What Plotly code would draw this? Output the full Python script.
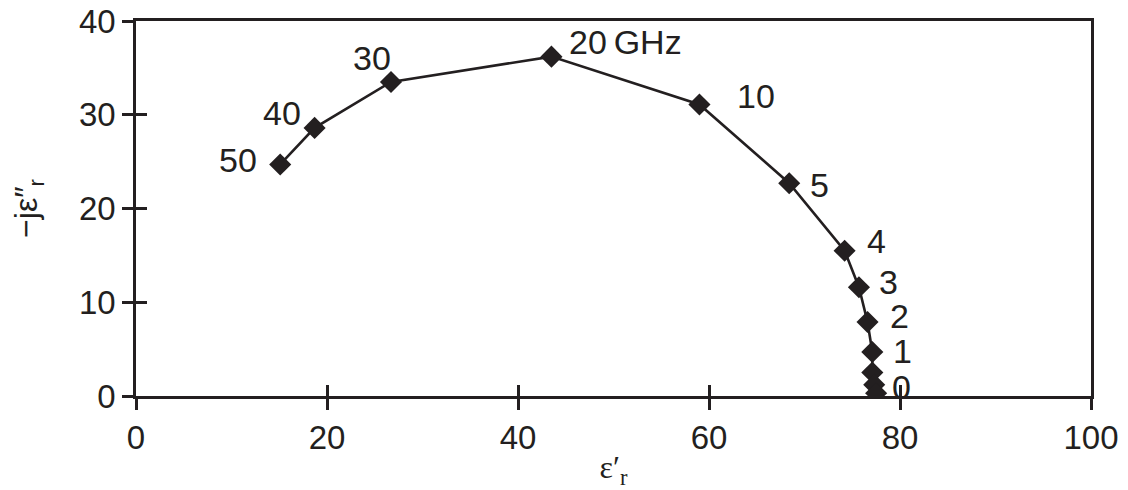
import plotly.graph_objects as go

freq_labels = ["50", "40", "30", "20\u2009GHz", "10", "5", "4", "3", "2", "1", "", "", "0"]
eps_real = [15.1, 18.7, 26.7, 43.5, 59.0, 68.4, 74.2, 75.7, 76.6, 77.1, 77.1, 77.3, 77.5]
eps_imag = [24.7, 28.6, 33.5, 36.2, 31.1, 22.7, 15.5, 11.6, 7.9, 4.7, 2.5, 1.2, 0.3]
x_ticks = [0, 20, 40, 60, 80, 100]
y_ticks = [0, 10, 20, 30, 40]

# label offsets (pixels) relative to each point
label_dx = [-42, -33, -19, 16, 57, 30, 32, 30, 32, 30, 0, 0, 25]
label_dy = [4, 15, 24, 15, 8, -2, 10, 5, 6, 1, 0, 0, 6]

INK = "#231f20"
FONT = "Liberation Sans, Arial, sans-serif"

fig = go.Figure()
fig.add_trace(go.Scatter(
    x=eps_real, y=eps_imag, mode="lines+markers",
    line=dict(color=INK, width=2.6),
    marker=dict(symbol="diamond", size=17, color=INK),
    showlegend=False, hoverinfo="skip",
))
# invisible trace on the overlay axes so the inside ticks render
fig.add_trace(go.Scatter(x=[None], y=[None], xaxis="x2", yaxis="y2",
                         showlegend=False, hoverinfo="skip"))

for i, lab in enumerate(freq_labels):
    if not lab:
        continue
    fig.add_annotation(
        x=eps_real[i], y=eps_imag[i], text=lab, showarrow=False,
        xanchor="left" if i == 3 else "center", yanchor="middle",
        xshift=label_dx[i], yshift=label_dy[i],
        font=dict(family=FONT, size=34, color=INK),
    )

axis_common = dict(linecolor=INK, linewidth=2.5, tickcolor=INK, tickwidth=2.5,
                   ticklen=11, showgrid=False, zeroline=False, automargin=False)

# page body has an 8px margin, so the figure is sized to fit the 1128x490 window
fig.update_layout(
    width=1120, height=482,
    margin=dict(l=128, r=37, t=13, b=94),
    paper_bgcolor="white", plot_bgcolor="white",
    xaxis=dict(range=[0, 100], tickvals=x_ticks, ticks="outside", mirror=True,
               showline=True, ticklabeloverflow="allow",
               tickfont=dict(family=FONT, size=33, color=INK),
               title=dict(text="ε′<sub>r</sub>", standoff=10,
                          font=dict(family="Liberation Serif, Times New Roman, serif",
                                    size=32, color=INK)),
               **axis_common),
    yaxis=dict(range=[0, 40], tickvals=y_ticks, ticks="outside", mirror=True,
               showline=True, ticklabeloverflow="allow",
               tickfont=dict(family=FONT, size=33, color=INK),
               title=dict(text="−jε″<sub>r</sub>", standoff=45,
                          font=dict(family=FONT, size=32, color=INK)),
               **axis_common),
    xaxis2=dict(range=[0, 100], tickvals=x_ticks, ticks="inside", overlaying="x",
                showticklabels=False, showline=False, anchor="y2", side="bottom",
                **{k: v for k, v in axis_common.items() if k not in ("linecolor", "linewidth")}),
    yaxis2=dict(range=[0, 40], tickvals=y_ticks, ticks="inside", overlaying="y",
                showticklabels=False, showline=False, anchor="x2", side="left",
                **{k: v for k, v in axis_common.items() if k not in ("linecolor", "linewidth")}),
)

fig.write_html("out.html")
